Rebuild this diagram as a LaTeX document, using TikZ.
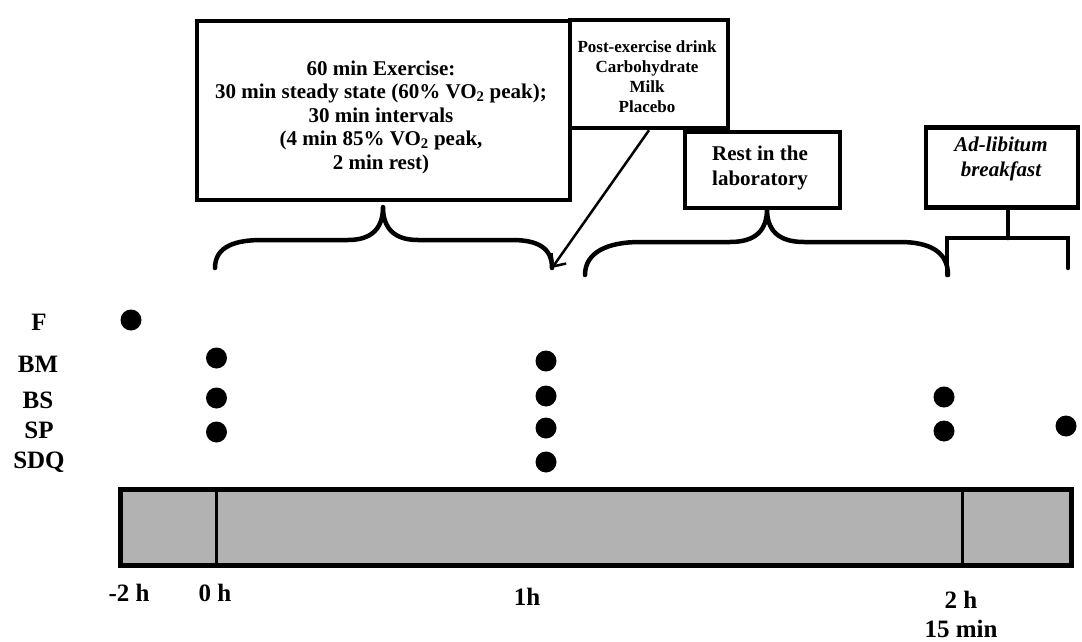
\documentclass[tikz,border=0pt]{standalone}
\usepackage{fontspec}
\setmainfont{Liberation Serif}
\usetikzlibrary{arrows.meta}
\begin{document}
\begin{tikzpicture}[x=1pt, y=-1pt,
  panel/.style={draw, line width=4.5pt, inner sep=0pt, fill=white},
  boxtext/.style={anchor=north, align=center, inner sep=0pt, font=\bfseries\fontsize{21}{23.5}\selectfont},
  labtext/.style={anchor=north, align=center, inner sep=0pt, font=\bfseries\fontsize{21}{25}\selectfont},
  drinktext/.style={anchor=north, align=center, inner sep=0pt, font=\bfseries\fontsize{17}{20}\selectfont},
  rowlabel/.style={anchor=base, inner sep=0pt, font=\bfseries\fontsize{25}{29}\selectfont},
  timelabel/.style={anchor=base, inner sep=0pt, font=\bfseries\fontsize{25}{29}\selectfont},
  dot/.style={circle, fill=black, inner sep=0pt, minimum size=21pt},
  brace/.style={line width=4.5pt, line cap=round, line join=round},
  pointer/.style={line width=2.5pt, -{Straight Barb[length=10pt, width=18pt]}},
]
\useasboundingbox (0,0) rectangle (1082,642);

% ---- boxes at the top ----
\node[panel, minimum width=373pt, minimum height=179pt] (exbox) at (383.5,110.5) {};
\node[panel, minimum width=158pt, minimum height=108pt] (drinkbox) at (649,74) {};
\node[panel, minimum width=155pt, minimum height=76pt] (restbox) at (762.5,170) {};
\node[panel, minimum width=152pt, minimum height=80pt] (foodbox) at (1002,167.5) {};

\node[boxtext] (extext) at (381,60.5) {60 min Exercise:\\
  30 min steady state (60\% VO\textsubscript{2} peak);\\
  30 min intervals\\
  (4 min 85\% VO\textsubscript{2} peak,\\
  2 min rest)};
\node[drinktext] (drinktext) at (647,40.4) {Post-exercise drink\\Carbohydrate\\Milk\\Placebo};
\node[labtext] (resttext) at (760,145.5) {Rest in the\\laboratory};
\node[labtext, font=\bfseries\itshape\fontsize{21}{25}\selectfont] (foodtext) at (1001,136.5) {Ad-libitum\\breakfast};

% ---- braces under the boxes ----
\coordinate (b1l) at (215,268);
\coordinate (b1t) at (383,207);
\coordinate (b1r) at (552,268);
\draw[brace] (b1l) .. controls (215,246) and (236,240) .. (262,240)
  -- (348,240) .. controls (372,240) and (383,228) .. (b1t)
  .. controls (383,228) and (394,240) .. (418,240)
  -- (512,240) .. controls (538,240) and (552,248) .. (b1r);

\coordinate (b2l) at (585,275);
\coordinate (b2t) at (767,209);
\coordinate (b2r) at (948,275);
\draw[brace] (b2l) .. controls (585,252) and (608,242) .. (640,242)
  -- (730,242) .. controls (756,242) and (767,230) .. (b2t)
  .. controls (767,230) and (778,242) .. (804,242)
  -- (900,242) .. controls (930,242) and (948,252) .. (b2r);

\coordinate (b3s) at (1008,238);
\draw[brace, line join=miter] (foodbox.south -| b3s) -- (b3s);
\draw[brace, line join=miter] (947,275) -- (947,238) -- (1068,238) -- (1068,268);

% ---- drink pointer ----
\draw[pointer] (drinkbox.south) -- (b1r);

% ---- measurement rows ----
\node[rowlabel] (lF)   at (39,330) {F};
\node[rowlabel] (lBM)  at (38,372) {BM};
\node[rowlabel] (lBS)  at (38,408) {BS};
\node[rowlabel] (lSP)  at (39,438) {SP};
\node[rowlabel] (lSDQ) at (39,468) {SDQ};

\node[dot] (dF)    at (131,320) {};
\node[dot] (dBM0)  at (216.5,358) {};
\node[dot] (dBS0)  at (216.5,398) {};
\node[dot] (dSP0)  at (216.5,432) {};
\node[dot] (dBM1)  at (546,361) {};
\node[dot] (dBS1)  at (546,396) {};
\node[dot] (dSP1)  at (546,428) {};
\node[dot] (dSDQ1) at (546,462) {};
\node[dot] (dBS2)  at (944,397) {};
\node[dot] (dSP2)  at (944,431) {};
\node[dot] (dEnd)  at (1066,426) {};

% ---- time bar ----
\node[draw, line width=5pt, fill=black!30, inner sep=0pt,
      minimum width=951pt, minimum height=75.5pt] (bar) at (595.5,527.25) {};
\draw[line width=3pt] (216.5,0 |- bar.north) -- (216.5,0 |- bar.south);
\draw[line width=3pt] (962,0 |- bar.north) -- (962,0 |- bar.south);

\node[timelabel] (tm2) at (129,601) {-2 h};
\node[timelabel] (t0)  at (215,601) {0 h};
\node[timelabel] (t1)  at (527,605) {1h};
\node[anchor=north, align=center, inner sep=0pt, font=\bfseries\fontsize{25}{29}\selectfont] (t2)
  at (961,591) {2 h\\15 min};
\end{tikzpicture}
\end{document}
